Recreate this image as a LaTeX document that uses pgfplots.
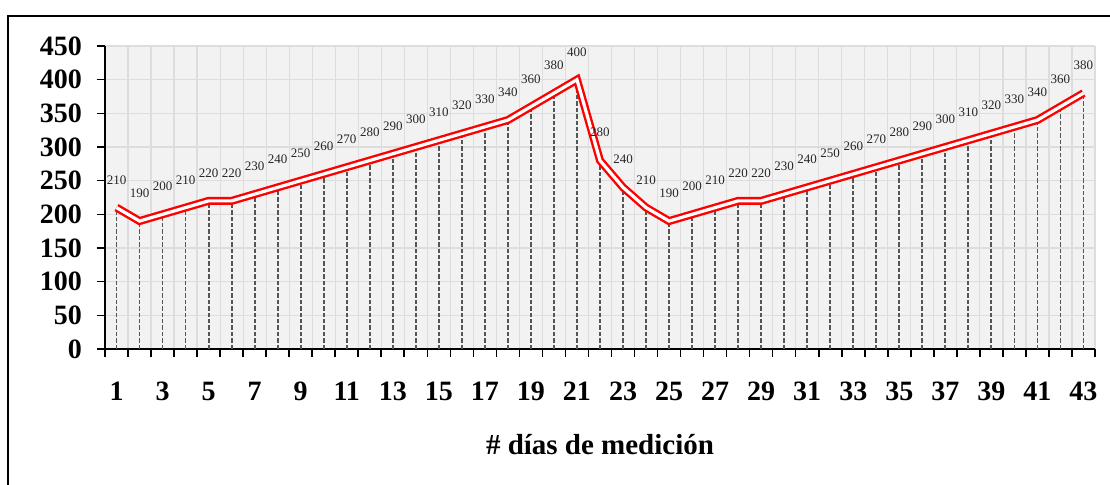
\documentclass[border=0pt]{standalone}
\usepackage{pgfplots}
\usepackage{pgfplotstable}
\pgfplotsset{compat=1.18}
\usepackage{fontspec}
\setmainfont{Liberation Serif}
\definecolor{bgc}{HTML}{F2F2F2}
\definecolor{gridc}{HTML}{DDDDDD}
\definecolor{dropc}{HTML}{555555}
\pgfplotstableread{
x y
1 210
2 190
3 200
4 210
5 220
6 220
7 230
8 240
9 250
10 260
11 270
12 280
13 290
14 300
15 310
16 320
17 330
18 340
19 360
20 380
21 400
22 280
23 240
24 210
25 190
26 200
27 210
28 220
29 220
30 230
31 240
32 250
33 260
34 270
35 280
36 290
37 300
38 310
39 320
40 330
41 340
42 360
43 380
}\datatable
\begin{document}
\begin{tikzpicture}
\begin{axis}[
  at={(0pt,0pt)}, anchor=south west,
  scale only axis, width=495pt, height=151.5pt,
  xmin=0.5, xmax=43.5, ymin=0, ymax=450,
  clip=false,
  axis x line*=bottom, axis y line*=left,
  axis line style={line width=0.8pt, black},
  axis background/.style={fill=bgc},
  xtick={1,3,...,43},
  minor xtick={0.5,1.5,...,43.5},
  ytick={0,50,...,450},
  tick align=outside,
  major tick length=4pt, minor tick length=4pt,
  major x tick style={draw=none},
  minor x tick style={line width=0.8pt, black},
  ytick style={line width=0.8pt, black},
  xminorgrids=true, ymajorgrids=true, xmajorgrids=false,
  minor grid style={gridc, line width=0.6pt},
  major grid style={gridc, line width=0.6pt},
  /pgf/number format/assume math mode=true,
  ticklabel style={font=\bfseries\fontsize{14}{15}\selectfont},
  xticklabel style={anchor=base, yshift=-22pt},
  yticklabel style={anchor=east, xshift=-4pt},
  xlabel={\# días de medición},
  xlabel style={font=\bfseries\fontsize{14.5}{16}\selectfont, at={(axis description cs:0.5,0)}, anchor=center, yshift=-48pt},
]
\addplot[ycomb, dropc, line width=0.9pt, dash pattern=on 2.2pt off 1pt] table[x=x,y=y] {\datatable};
\addplot[draw=red, double=white, line width=1.2pt, double distance=1.6pt, line join=miter] table[x=x,y=y] {\datatable};
\addplot[draw=none, nodes near coords, every node near coord/.append style={anchor=south, yshift=8.2pt, font=\fontsize{6.5}{7}\selectfont, black!85}] table[x=x,y=y] {\datatable};
\end{axis}
\draw[line width=1pt] (-48.5pt,166.5pt) rectangle (540pt,-100pt);
\pgfresetboundingbox
\useasboundingbox (-52.5pt,-68pt) rectangle (502.5pt,174.5pt);
\end{tikzpicture}
\end{document}
